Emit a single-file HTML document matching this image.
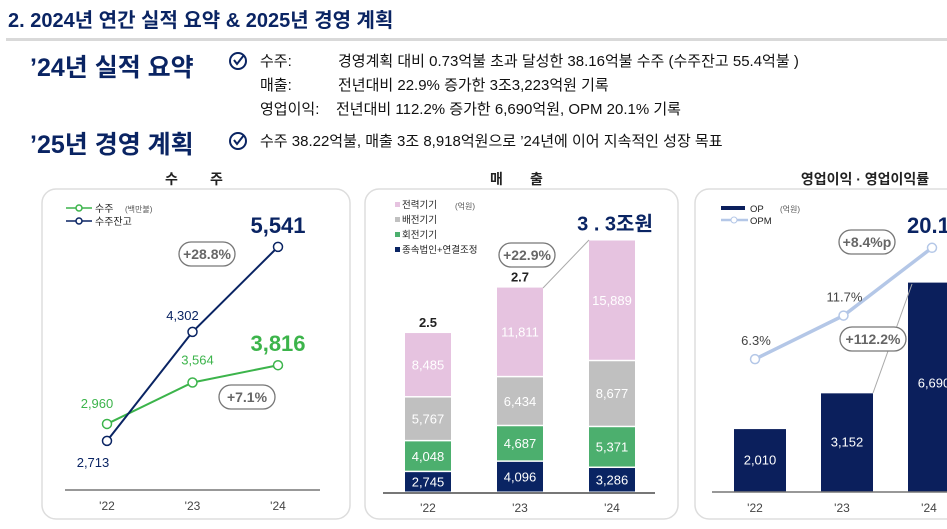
<!DOCTYPE html>
<html><head><meta charset="utf-8">
<style>
body{margin:0;width:947px;height:524px;background:#fff;overflow:hidden;font-family:"Liberation Sans","Noto Sans CJK KR",sans-serif;}
</style></head><body>
<svg width="947" height="524" xmlns="http://www.w3.org/2000/svg" font-family="Liberation Sans, Noto Sans CJK KR, sans-serif">
<text x="8" y="27" font-size="20" font-weight="bold" fill="#0a2463">2. 2024년 연간 실적 요약 &amp; 2025년 경영 계획</text>
<rect x="6" y="38" width="941" height="3" fill="#d9d9d9"/>
<text x="30" y="76" font-size="25" font-weight="bold" fill="#0a2463">’24년 실적 요약</text>
<text x="30" y="153" font-size="25" font-weight="bold" fill="#0a2463">’25년 경영 계획</text>
<g><circle cx="238" cy="61" r="8" fill="none" stroke="#0a2463" stroke-width="2"/><path d="M234 60 l3 4 l7 -9" stroke="#0a2463" stroke-width="2" fill="none"/></g>
<g><circle cx="238" cy="141" r="8" fill="none" stroke="#0a2463" stroke-width="2"/><path d="M234 140 l3 4 l7 -9" stroke="#0a2463" stroke-width="2" fill="none"/></g>
<g font-size="15" fill="#111">
<text x="260" y="66">수주:<tspan x="338">경영계획 대비 0.73억불 초과 달성한 38.16억불 수주 (수주잔고 55.4억불 )</tspan></text>
<text x="260" y="90">매출:<tspan x="338">전년대비 22.9% 증가한 3조3,223억원 기록</tspan></text>
<text x="260" y="114">영업이익:<tspan x="336">전년대비 112.2% 증가한 6,690억원,  OPM 20.1% 기록</tspan></text>
<text x="260" y="146">수주 38.22억불, 매출 3조 8,918억원으로 ’24년에 이어 지속적인 성장 목표</text>
</g>
<g font-size="14" font-weight="bold" fill="#222">
<text y="184"><tspan x="165">수</tspan><tspan x="210">주</tspan></text>
<text y="184"><tspan x="490">매</tspan><tspan x="530">출</tspan></text>
<text x="865" y="184" text-anchor="middle">영업이익 · 영업이익률</text>
</g>
<rect x="42" y="189" width="308" height="330" rx="14" fill="#fff" stroke="#ddd" stroke-width="1.5"/>
<rect x="365" y="189" width="313" height="330" rx="14" fill="#fff" stroke="#ddd" stroke-width="1.5"/>
<rect x="695" y="189" width="280" height="330" rx="14" fill="#fff" stroke="#ddd" stroke-width="1.5"/>
<g id="c1"></g><g id="c2"></g><g id="c3"></g>
</svg>
<script>
const years=["'22","'23","'24"];
const orders=[2960,3564,3816];
const backlog=[2713,4302,5541];
const salesPower=[8485,11811,15889];
const salesDist=[5767,6434,8677];
const salesRot=[4048,4687,5371];
const salesSub=[2745,4096,3286];
const salesTotalLabels=["2.5","2.7","3.3조원"];
const opVals=[2010,3152,6690];
const opmVals=[6.3,11.7,20.1];
const NS="http://www.w3.org/2000/svg";
function mk(parent,tag,attrs,text){const e=document.createElementNS(NS,tag);for(const k in attrs)e.setAttribute(k,attrs[k]);if(text!==undefined)e.textContent=text;parent.appendChild(e);return e;}
const fmt=v=>v.toLocaleString('en-US');
// chart 1
const c1=document.getElementById('c1');
const x1=i=>107+i*85.5, y1=v=>627-v*0.0686;
let el;
el=mk(c1,'line',{x1:65,x2:320,y1:490,y2:490,stroke:'#777','stroke-width':1.5});

years.forEach((t,i)=>{el=mk(c1,'text',{x:x1(i),y:510,'font-size':12,'text-anchor':'middle',fill:'#444'},t);
});
el=mk(c1,'g',{});
mk(el,'line',{x1:66,x2:92,y1:208,y2:208,stroke:'#3cb44b','stroke-width':1.5});mk(el,'circle',{cx:79,cy:208,r:3,fill:'#fff',stroke:'#3cb44b','stroke-width':1.5});
mk(el,'text',{x:95,y:212,'font-size':10,fill:'#222'},'수주');mk(el,'text',{x:125,y:212,'font-size':8,fill:'#555'},'(백만불)');
mk(el,'line',{x1:66,x2:92,y1:221,y2:221,stroke:'#0a2463','stroke-width':1.5});mk(el,'circle',{cx:79,cy:221,r:3,fill:'#fff',stroke:'#0a2463','stroke-width':1.5});
mk(el,'text',{x:95,y:225,'font-size':10,fill:'#222'},'수주잔고');
function series(g,data,color,name,labelDx,labelDy){
  el=mk(g,'polyline',{points:data.map((v,i)=>x1(i)+','+y1(v)).join(' '),fill:'none',stroke:color,'stroke-width':2});
  
  data.forEach((v,i)=>{el=mk(g,'circle',{cx:x1(i),cy:y1(v),r:4.5,fill:'#fff',stroke:color,'stroke-width':1.5});
  
  const big=i===2;
  el=mk(g,'text',{x:x1(i)+(big?0:labelDx[i]),y:y1(v)+(big?-14:labelDy[i]),'font-size':big?22:13,'font-weight':big?'bold':'normal','text-anchor':'middle',fill:color},fmt(v));
  });
}
series(c1,orders,'#3cb44b','orders',[-10,5],[-16,-18]);
series(c1,backlog,'#0a2463','backlog',[-14,-10],[26,-12]);
function pill(g,cx,cy,w,txt,name){el=mk(g,'g',{});
mk(el,'rect',{x:cx-w/2,y:cy-12,width:w,height:24,rx:12,fill:'#fff',stroke:'#777','stroke-width':1.3});
mk(el,'text',{x:cx,y:cy+5,'font-size':14,'font-weight':'bold','text-anchor':'middle',fill:'#666'},txt);}
pill(c1,207,254,56,'+28.8%','backlog-growth-badge');
pill(c1,247,397,56,'+7.1%','orders-growth-badge');
// chart 2
const c2=document.getElementById('c2');
const x2=i=>428+i*92, k2=0.0076, base2=493, bw2=46;
const layers=[[salesSub,'#0a2463','subsidiary'],[salesRot,'#4caf6e','rotating'],[salesDist,'#c0c0c0','distribution'],[salesPower,'#e6c3e0','power']];
years.forEach((t,i)=>{let y=base2;
 layers.forEach(([arr,col,nm])=>{const h=arr[i]*k2;y-=h;
  el=mk(c2,'rect',{x:x2(i)-bw2/2,y:y,width:bw2,height:h-1.5,fill:col});
  
  el=mk(c2,'text',{x:x2(i),y:y+h/2+4,'font-size':13,'text-anchor':'middle',fill:'#fff'},fmt(arr[i]));
  });
 const big=i===2;
 el=mk(c2,'text',{x:x2(i)+(big?3:0),y:y-(big?10:6),'font-size':big?20:13,'font-weight':'bold','text-anchor':'middle',fill:big?'#0a2463':'#222'},big?'3 . 3조원':salesTotalLabels[i]);
 
 el=mk(c2,'text',{x:x2(i),y:512,'font-size':12,'text-anchor':'middle',fill:'#444'},t);
 });
el=mk(c2,'line',{x1:383,x2:655,y1:493,y2:493,stroke:'#777','stroke-width':2});

el=mk(c2,'line',{x1:x2(1)+bw2/2,y1:288,x2:x2(2)-bw2/2,y2:240,stroke:'#aaa','stroke-width':1});

pill(c2,527,255,56,'+22.9%','sales-growth-badge');
el=mk(c2,'g',{});
[['전력기기','#e6c3e0'],['배전기기','#c0c0c0'],['회전기기','#4caf6e'],['종속법인+연결조정','#0a2463']].forEach(([n,c],j)=>{
 mk(el,'rect',{x:395,y:202+j*15,width:5,height:5,fill:c});mk(el,'text',{x:402,y:208+j*15,'font-size':9.5,fill:'#222'},n);});
mk(el,'text',{x:455,y:209,'font-size':8,fill:'#555'},'(억원)');
// chart 3
const c3=document.getElementById('c3');
const x3=i=>760+i*87, k3=0.0313, base3=492, bw3=52, y3=v=>410-v*8.07;
years.forEach((t,i)=>{const h=opVals[i]*k3;
 el=mk(c3,'rect',{x:x3(i)-bw3/2,y:base3-h,width:bw3,height:h,fill:'#0b1f5c'});
 
 el=mk(c3,'text',{x:x3(i),y:i===2?base3-h+105:base3-h/2+4,'font-size':13,'text-anchor':'middle',fill:'#fff'},fmt(opVals[i]));
 
 el=mk(c3,'text',{x:x3(i)-5,y:512,'font-size':12,'text-anchor':'middle',fill:'#444'},t);
 });
el=mk(c3,'line',{x1:712,x2:947,y1:492,y2:492,stroke:'#777','stroke-width':1.5});

el=mk(c3,'line',{x1:x3(1)+bw3/2,y1:393,x2:x3(2)-bw3/2+4,y2:284,stroke:'#aaa','stroke-width':1});

const xo=i=>755+i*88.5;
el=mk(c3,'polyline',{points:opmVals.map((v,i)=>xo(i)+','+y3(v)).join(' '),fill:'none',stroke:'#b4c7e7','stroke-width':3.5});

opmVals.forEach((v,i)=>{el=mk(c3,'circle',{cx:xo(i),cy:y3(v),r:4.5,fill:'#fff',stroke:'#b4c7e7','stroke-width':1.5});
 
 const big=i===2;
 el=mk(c3,'text',{x:big?xo(i)-25:xo(i)+1,y:y3(v)-(big?15:14),'font-size':big?22:13,'font-weight':big?'bold':'normal','text-anchor':big?'start':'middle',fill:big?'#0a2463':'#444'},v.toFixed(1)+'%');
 });
pill(c3,867,242,56,'+8.4%p','opm-growth-badge');
pill(c3,873,339,66,'+112.2%','op-growth-badge');
el=mk(c3,'g',{});
mk(el,'rect',{x:721,y:206,width:24,height:4,fill:'#0b1f5c'});mk(el,'text',{x:750,y:212,'font-size':9.5,fill:'#222'},'OP');
mk(el,'text',{x:780,y:212,'font-size':8,fill:'#555'},'(억원)');
mk(el,'line',{x1:721,x2:748,y1:220,y2:220,stroke:'#b4c7e7','stroke-width':2.5});mk(el,'circle',{cx:734,cy:220,r:3,fill:'#fff',stroke:'#b4c7e7'});
mk(el,'text',{x:750,y:224,'font-size':9.5,fill:'#222'},'OPM');
</script>
</body></html>
